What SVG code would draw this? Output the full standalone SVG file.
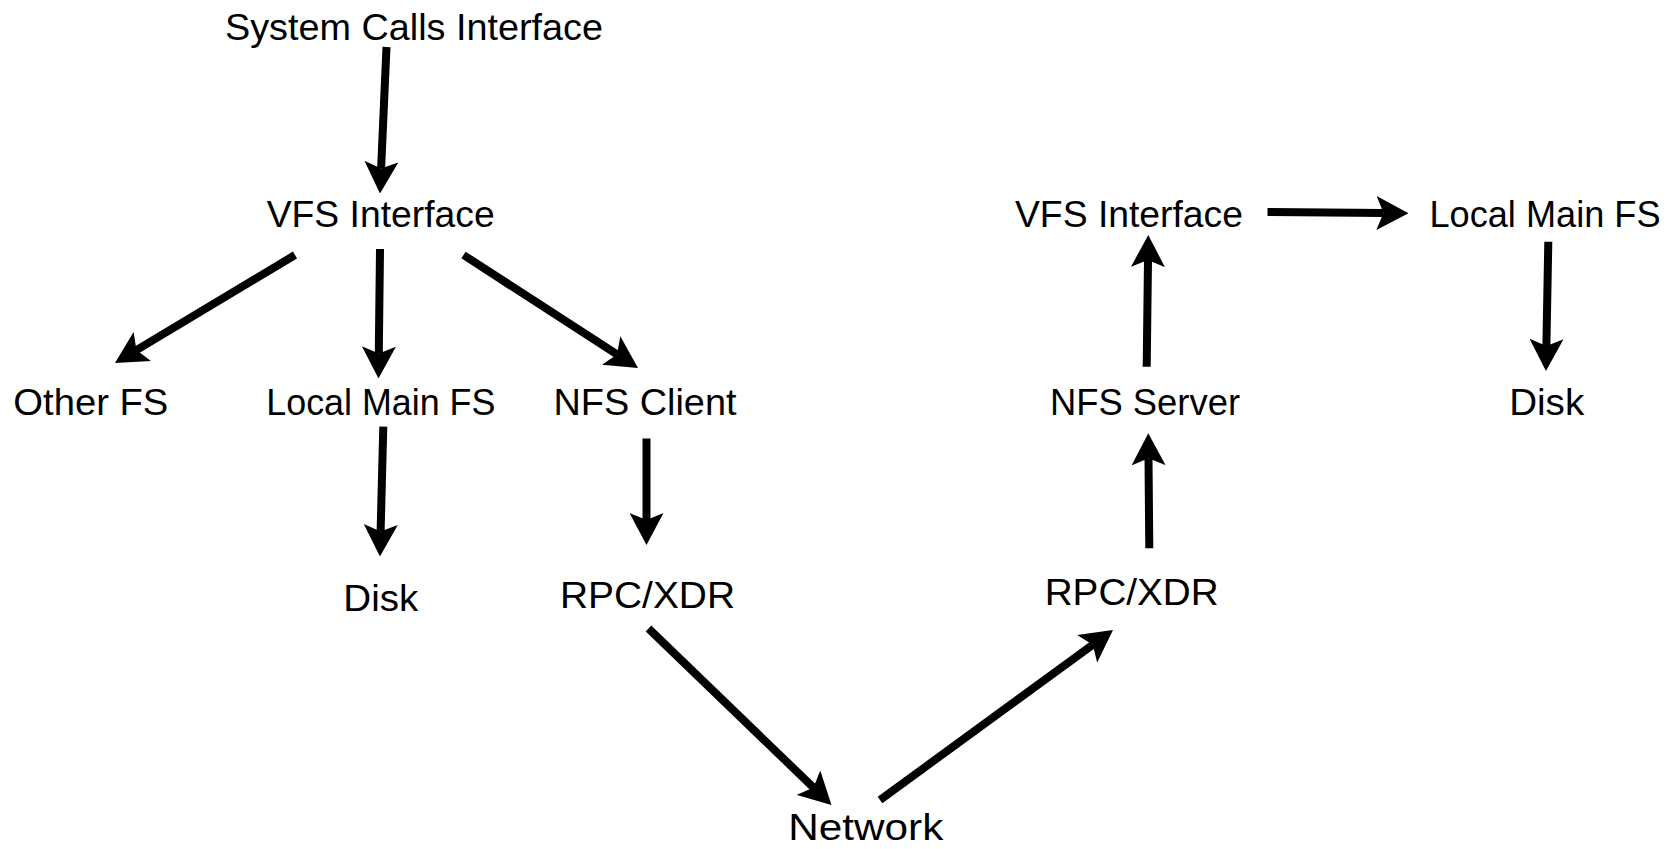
<svg xmlns="http://www.w3.org/2000/svg" width="1678" height="849" viewBox="0 0 1678 849">
  <defs>
    <style>
      .label { font-family: "Liberation Sans", Arial, sans-serif; font-size: 37px; fill: #000; text-anchor: middle; }
      .edge { stroke: #000; stroke-width: 8; fill: none; marker-end: url(#head); }
    </style>
    <!-- notched arrowhead; the line stops at the notch (x=7) -->
    <marker id="head" viewBox="0 0 32 34" refX="7" refY="17" markerWidth="32" markerHeight="34" markerUnits="userSpaceOnUse" orient="auto">
      <path d="M0 0 L32 17 L0 34 L7 17 Z" fill="#000"/>
    </marker>
  </defs>
  <rect width="1678" height="849" fill="#fff"/>

  <g id="connectors">
    <line class="edge" x1="386.5" y1="47" x2="381.1" y2="168.5"/>
    <line class="edge" x1="295" y1="255" x2="136.4" y2="350.1"/>
    <line class="edge" x1="380" y1="249" x2="378.8" y2="353.5"/>
    <line class="edge" x1="463.5" y1="255" x2="617" y2="354.4"/>
    <line class="edge" x1="383.3" y1="426.7" x2="380.6" y2="531.5"/>
    <line class="edge" x1="646.5" y1="438.5" x2="646.5" y2="520"/>
    <line class="edge" x1="648.5" y1="628.5" x2="813.5" y2="787.6"/>
    <line class="edge" x1="880" y1="800" x2="1092.8" y2="644.7"/>
    <line class="edge" x1="1149.3" y1="548.3" x2="1148.5" y2="458.3"/>
    <line class="edge" x1="1146.7" y1="366.7" x2="1148" y2="260"/>
    <line class="edge" x1="1267.5" y1="212" x2="1383.5" y2="213.1"/>
    <line class="edge" x1="1548.3" y1="241.7" x2="1546.4" y2="346"/>
  </g>

  <g id="syscalls"><text class="label" x="414" y="40" textLength="378" lengthAdjust="spacingAndGlyphs">System Calls Interface</text></g>
  <g id="vfs-client"><text class="label" x="380.7" y="227" textLength="228" lengthAdjust="spacingAndGlyphs">VFS Interface</text></g>
  <g id="other-fs"><text class="label" x="90.8" y="414.5" textLength="155" lengthAdjust="spacingAndGlyphs">Other FS</text></g>
  <g id="local-fs-client"><text class="label" x="380.8" y="414.5" textLength="229" lengthAdjust="spacingAndGlyphs">Local Main FS</text></g>
  <g id="nfs-client"><text class="label" x="645" y="414.5" textLength="183" lengthAdjust="spacingAndGlyphs">NFS Client</text></g>
  <g id="disk-client"><text class="label" x="380.8" y="611" textLength="75" lengthAdjust="spacingAndGlyphs">Disk</text></g>
  <g id="rpc-client"><text class="label" x="647.5" y="608" textLength="175" lengthAdjust="spacingAndGlyphs">RPC/XDR</text></g>
  <g id="network"><text class="label" x="865.8" y="840" textLength="155" lengthAdjust="spacingAndGlyphs">Network</text></g>
  <g id="rpc-server"><text class="label" x="1131.7" y="605" textLength="174" lengthAdjust="spacingAndGlyphs">RPC/XDR</text></g>
  <g id="nfs-server"><text class="label" x="1145" y="415" textLength="190" lengthAdjust="spacingAndGlyphs">NFS Server</text></g>
  <g id="vfs-server"><text class="label" x="1129" y="227" textLength="228" lengthAdjust="spacingAndGlyphs">VFS Interface</text></g>
  <g id="local-fs-server"><text class="label" x="1545" y="227" textLength="231" lengthAdjust="spacingAndGlyphs">Local Main FS</text></g>
  <g id="disk-server"><text class="label" x="1546.7" y="415" textLength="75" lengthAdjust="spacingAndGlyphs">Disk</text></g>
</svg>
